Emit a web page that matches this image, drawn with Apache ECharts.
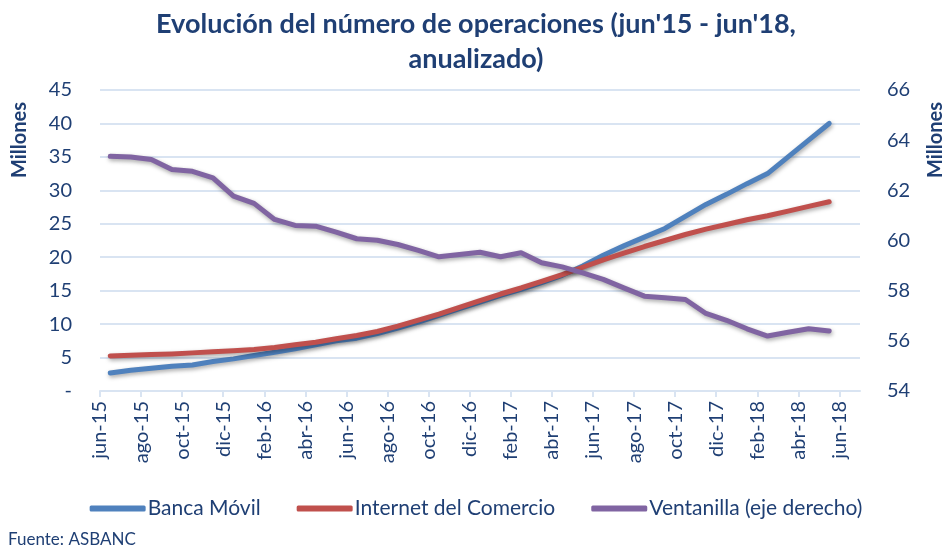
<!DOCTYPE html>
<html>
<head>
<meta charset="utf-8">
<script src="https://cdn.jsdelivr.net/npm/echarts@6/dist/echarts.min.js"></script>
<style>
  html, body { margin: 0; padding: 0; background: #fff; }
  #chart { width: 952px; height: 552px; }
</style>
</head>
<body>
<div id="chart"></div>
<script>
// etiquetas del eje x (jun-15 ... jul-18)
let months = ['jun-15','jul-15','ago-15','sep-15','oct-15','nov-15','dic-15','ene-16','feb-16','mar-16','abr-16','may-16',
    'jun-16','jul-16','ago-16','sep-16','oct-16','nov-16','dic-16','ene-17','feb-17','mar-17','abr-17','may-17',
    'jun-17','jul-17','ago-17','sep-17','oct-17','nov-17','dic-17','ene-18','feb-18','mar-18','abr-18','may-18',
    'jun-18','jul-18'];

// millones de operaciones (jun-15 ... may-18)
let bancaMovil = [2.7,3.1,3.4,3.7,3.9,4.4,4.8,5.3,5.8,6.3,6.9,7.5,
    7.9,8.6,9.4,10.3,11.3,12.3,13.3,14.3,15.2,16.2,17.3,18.7,
    20.3,21.7,23.0,24.3,26.1,27.9,29.4,31.0,32.5,35.0,37.5,40.0];
let internetComercio = [5.25,5.35,5.45,5.55,5.7,5.85,6.0,6.2,6.5,6.9,7.3,7.8,
    8.3,8.9,9.7,10.6,11.5,12.5,13.5,14.5,15.4,16.4,17.4,18.5,
    19.6,20.6,21.6,22.5,23.4,24.2,24.9,25.6,26.2,26.9,27.6,28.3];
let ventanilla = [63.36,63.33,63.23,62.83,62.76,62.50,61.77,61.48,60.84,60.60,60.57,60.33,
    60.07,60.01,59.84,59.61,59.35,59.44,59.53,59.35,59.51,59.11,58.95,58.71,
    58.45,58.11,57.78,57.72,57.65,57.09,56.82,56.48,56.19,56.34,56.48,56.39];

let leftTicks = [0,45,5];   // min, max, intervalo
let rightTicks = [54,66,2];

let txtColor = '#1f3f74';
let gridColor = '#d9e4f2';
let fontName = 'Lato, "Open Sans", sans-serif';

let chart = echarts.init(document.getElementById('chart'), null, {renderer: 'canvas'});

function lineSeries(name, data, color, axisIdx) {
    return {
        name: name,
        type: 'line',
        xAxisIndex: 1,
        yAxisIndex: axisIdx,
        data: data,
        symbol: 'none',
        smooth: false,
        lineStyle: {
            color: color, width: 5, cap: 'round', join: 'round',
            shadowColor: 'rgba(0,0,0,0.35)', shadowBlur: 4, shadowOffsetX: 1, shadowOffsetY: 2
        },
        itemStyle: {color: color},
        z: axisIdx === 1 ? 3 : 2
    };
}

let option = {
    backgroundColor: '#fff',
    animation: false,
    textStyle: {fontFamily: fontName},
    title: {
        text: "Evolución del número de operaciones (jun'15 - jun'18,\nanualizado)",
        left: 'center',
        top: 2,
        textStyle: {color: txtColor, fontSize: 27, fontWeight: 'bold', lineHeight: 35, fontFamily: fontName}
    },
    legend: {
        bottom: 28,
        left: 'center',
        itemWidth: 56,
        itemHeight: 6,
        itemGap: 36,
        icon: 'roundRect',
        textStyle: {color: txtColor, fontSize: 21, fontFamily: fontName, padding: [0, 0, 0, -3]},
        data: ['Banca Móvil', 'Internet del Comercio', 'Ventanilla (eje derecho)']
    },
    grid: {left: 100, right: 92, top: 90, bottom: 161, containLabel: false},
    xAxis: [{
        type: 'category',
        data: months,
        boundaryGap: false,
        axisLine: {lineStyle: {color: gridColor, width: 2}},
        axisTick: {show: true, interval: 1, length: 6, lineStyle: {color: gridColor, width: 2}},
        axisLabel: {interval: 1, rotate: 90, color: txtColor, fontSize: 20, margin: 10, fontFamily: fontName},
        splitLine: {show: false}
    }, {
        type: 'category',
        data: months.slice(0, 37),
        boundaryGap: true,
        show: false
    }],
    yAxis: [{
        type: 'value',
        min: leftTicks[0], max: leftTicks[1], interval: leftTicks[2],
        axisLine: {show: false},
        axisTick: {show: false},
        axisLabel: {
            color: txtColor, fontSize: 20, margin: 28, fontFamily: fontName,
            formatter: function (v) { return v === 0 ? '-' : v; }
        },
        splitLine: {lineStyle: {color: gridColor, width: 2}}
    }, {
        type: 'value',
        position: 'right',
        min: rightTicks[0], max: rightTicks[1], interval: rightTicks[2],
        axisLine: {show: false},
        axisTick: {show: false},
        axisLabel: {color: txtColor, fontSize: 20, margin: 27, fontFamily: fontName},
        splitLine: {show: false}
    }],
    graphic: [{
        type: 'text',
        x: 20, y: 140,
        rotation: Math.PI / 2,
        style: {text: 'Millones', fill: txtColor, font: 'bold 20px ' + fontName, align: 'center', verticalAlign: 'middle'}
    }, {
        type: 'text',
        x: 936, y: 140,
        rotation: Math.PI / 2,
        style: {text: 'Millones', fill: txtColor, font: 'bold 20px ' + fontName, align: 'center', verticalAlign: 'middle'}
    }, {
        type: 'text',
        left: 8, top: 531,
        style: {text: 'Fuente: ASBANC', fill: txtColor, font: '17px ' + fontName}
    }],
    series: [
        lineSeries('Banca Móvil', bancaMovil, '#4f81bd', 0),
        lineSeries('Internet del Comercio', internetComercio, '#c0504d', 0),
        lineSeries('Ventanilla (eje derecho)', ventanilla, '#8064a2', 1)
    ]
};

chart.setOption(option);
</script>
</body>
</html>
